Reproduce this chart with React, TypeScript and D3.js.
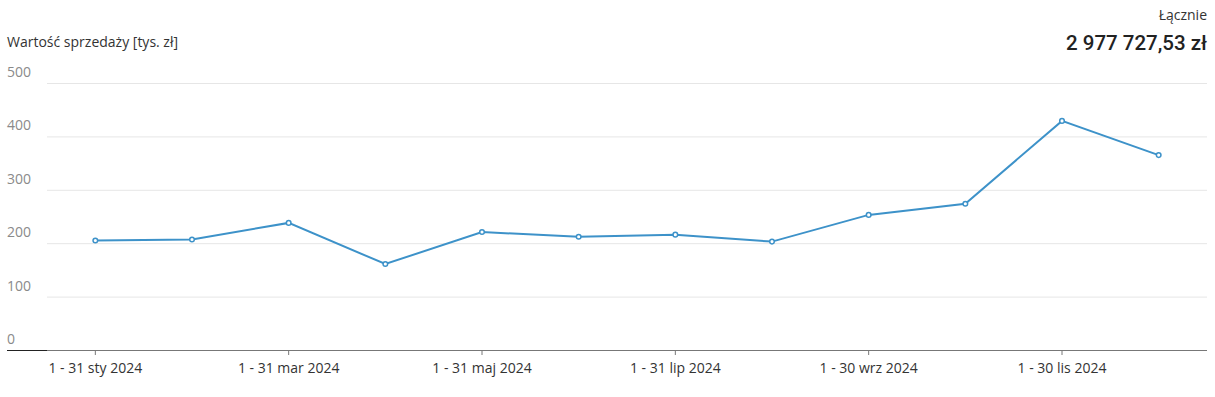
import React from "react";
import * as d3 from "d3";

const months = ["sty", "lut", "mar", "kwi", "maj", "cze", "lip", "sie", "wrz", "paź", "lis", "gru"];
const dayRanges = ["1 - 31", "1 - 29", "1 - 31", "1 - 30", "1 - 31", "1 - 30", "1 - 31", "1 - 31", "1 - 30", "1 - 31", "1 - 30", "1 - 31"];
const values = [205, 207, 238, 161, 221, 212, 216, 203, 253, 274, 429, 365];
const yTicks = [0, 100, 200, 300, 400, 500];
const labeledMonths = ["sty", "mar", "maj", "lip", "wrz", "lis"];
const title = "Wartość sprzedaży [tys. zł]";
const totalLabel = "Łącznie";
const totalValue = "2 977 727,53 zł";

const W = 1215, H = 397;
const left = 47, right = 1207, top = 83, bottom = 350;

export default function App() {
  const x = d3.scaleBand<string>().domain(months).range([left, right]);
  const cx = (m: string) => (x(m) ?? 0) + x.bandwidth() / 2;
  const y = d3.scaleLinear().domain([0, 500]).range([bottom, top]);
  const line = d3.line<number>().x((_, i) => cx(months[i])).y((d) => y(d));
  const color = "#3d92c9";
  return (
    <svg width={W} height={H} style={{ position: "absolute", left: 0, top: 0, fontFamily: "'Open Sans', sans-serif" }}>
      <rect width={W} height={H} fill="#fff" />
      <text x={7} y={47} fontSize={14} fill="#333">{title}</text>
      <text x={1207} y={20} fontSize={14} fill="#333" textAnchor="end">{totalLabel}</text>
      <text x={1207} y={50} fontSize={20.5} fontWeight={500} fill="#222" textAnchor="end" fontFamily="Roboto, sans-serif">{totalValue}</text>
      {yTicks.map((t) => (
        <g key={t}>
          {t > 0 && <line x1={left} x2={right} y1={y(t) + 0.5} y2={y(t) + 0.5} stroke="#e6e6e6" />}
          <text x={7} y={y(t) - 6} fontSize={14} fill="#8a8a8a">{t}</text>
        </g>
      ))}
      <line x1={7} x2={left} y1={bottom + 0.5} y2={bottom + 0.5} stroke="#222" />
      <line x1={left} x2={right} y1={bottom + 0.5} y2={bottom + 0.5} stroke="#777" />
      {labeledMonths.map((m) => {
        const i = months.indexOf(m);
        return (
          <g key={m}>
            <line x1={cx(m)} x2={cx(m)} y1={bottom} y2={bottom + 5} stroke="#777" />
            <text x={cx(m)} y={373} fontSize={14} fill="#333" textAnchor="middle">{`${dayRanges[i]} ${m} 2024`}</text>
          </g>
        );
      })}
      <path d={line(values) ?? ""} fill="none" stroke={color} strokeWidth={2} />
      {values.map((v, i) => (
        <circle key={i} cx={cx(months[i])} cy={y(v)} r={2.3} fill="#fff" stroke={color} strokeWidth={1.5} />
      ))}
    </svg>
  );
}
